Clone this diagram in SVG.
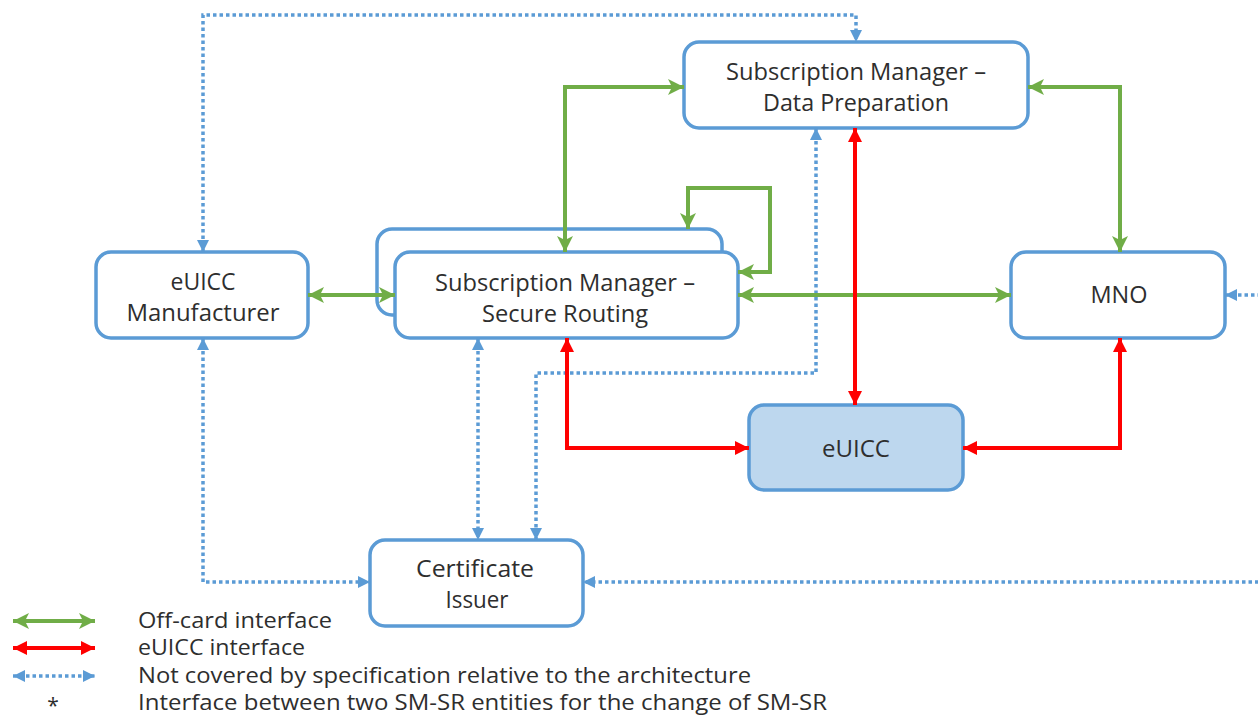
<svg xmlns="http://www.w3.org/2000/svg" width="1258" height="726" viewBox="0 0 1258 726">
<style>
.box{fill:#ffffff;stroke:#5b9bd5;stroke-width:3.5}
.chip{fill:#bdd7ee;stroke:#5b9bd5;stroke-width:3.5}
.t{font-family:"Open Sans","Liberation Sans",sans-serif;font-size:24px;fill:#2e2e2e;text-anchor:middle}
.lg{font-family:"Open Sans","Liberation Sans",sans-serif;font-size:21px;fill:#2e2e2e}
.g{fill:none;stroke:#70ad47;stroke-width:4;marker-start:url(#ag);marker-end:url(#ag)}
.r{fill:none;stroke:#ff0000;stroke-width:4;marker-start:url(#ar);marker-end:url(#ar)}
.b{fill:none;stroke:#5b9bd5;stroke-width:3.5;stroke-dasharray:3.5 3;marker-start:url(#ab);marker-end:url(#ab)}
</style>
<defs>
<marker id="ag" markerUnits="userSpaceOnUse" viewBox="0 0 16 16" refX="16" refY="8" markerWidth="16" markerHeight="16" orient="auto-start-reverse"><path d="M0,0 L16,8 L0,16 L4,8 z" fill="#70ad47"/></marker>
<marker id="ar" markerUnits="userSpaceOnUse" viewBox="0 0 14 14" refX="14" refY="7" markerWidth="14" markerHeight="14" orient="auto-start-reverse"><path d="M0,0 L14,7 L0,14 z" fill="#ff0000"/></marker>
<marker id="ab" markerUnits="userSpaceOnUse" viewBox="0 0 12 12" refX="12" refY="6" markerWidth="12" markerHeight="12" orient="auto-start-reverse"><path d="M0,0 L12,6 L0,12 z" fill="#5b9bd5"/></marker>
</defs>
<rect width="1258" height="726" fill="#ffffff"/>

<g id="sm-dp">
<rect class="box" x="684" y="42" width="344" height="86" rx="15"/>
<text class="t" x="856" y="80" textLength="260" lengthAdjust="spacingAndGlyphs">Subscription Manager –</text>
<text class="t" x="856" y="111" textLength="186" lengthAdjust="spacingAndGlyphs">Data Preparation</text>
</g>

<g id="euicc-manufacturer">
<rect class="box" x="96" y="252" width="212" height="86" rx="15"/>
<text class="t" x="203" y="290" textLength="65" lengthAdjust="spacingAndGlyphs">eUICC</text>
<text class="t" x="203" y="321" textLength="153" lengthAdjust="spacingAndGlyphs">Manufacturer</text>
</g>

<g id="sm-sr">
<rect class="box" x="377" y="229" width="345" height="86" rx="15"/>
<rect class="box" x="395" y="252" width="343" height="86" rx="15"/>
<text class="t" x="565" y="291" textLength="260" lengthAdjust="spacingAndGlyphs">Subscription Manager –</text>
<text class="t" x="565" y="322" textLength="166" lengthAdjust="spacingAndGlyphs">Secure Routing</text>
</g>

<g id="mno">
<rect class="box" x="1011" y="252" width="214" height="86" rx="15"/>
<text class="t" x="1119" y="303" textLength="57" lengthAdjust="spacingAndGlyphs">MNO</text>
</g>

<g id="euicc">
<rect class="chip" x="749" y="405" width="214" height="85" rx="15"/>
<text class="t" x="856" y="457" textLength="68" lengthAdjust="spacingAndGlyphs">eUICC</text>
</g>

<g id="certificate-issuer">
<rect class="box" x="370" y="540" width="213" height="86" rx="15"/>
<text class="t" x="475" y="577" textLength="118" lengthAdjust="spacingAndGlyphs">Certificate</text>
<text class="t" x="477" y="608" textLength="63" lengthAdjust="spacingAndGlyphs">Issuer</text>
</g>

<g id="connectors">
<path class="b" d="M203,252 V15 H856 V42"/>
<path class="b" d="M203,338 V582 H370"/>
<path class="b" d="M478,338 V540"/>
<path class="b" d="M816,128 V373 H536 V540"/>
<path class="b" d="M1225,295 H1290 V582 H583"/>
<path class="g" d="M308,295 H395"/>
<path class="g" d="M738,295 H1011"/>
<path class="g" d="M565,252 V87 H684"/>
<path class="g" d="M1028,87 H1120 V252"/>
<path class="g" d="M688,229 V188 H770 V272 H738"/>
<path class="r" d="M855,128 V405"/>
<path class="r" d="M567,338 V448 H749"/>
<path class="r" d="M1120,338 V448 H963"/>
</g>

<g id="legend">
<line class="g" x1="13" y1="621" x2="95" y2="621"/>
<line class="r" x1="13" y1="648" x2="95" y2="648"/>
<line class="b" x1="13" y1="676" x2="95" y2="676"/>
<text class="lg" x="53" y="713" text-anchor="middle">*</text>
<text class="lg" x="138" y="628" textLength="194" lengthAdjust="spacingAndGlyphs">Off-card interface</text>
<text class="lg" x="138" y="655" textLength="167" lengthAdjust="spacingAndGlyphs">eUICC interface</text>
<text class="lg" x="138" y="683" textLength="613" lengthAdjust="spacingAndGlyphs">Not covered by specification relative to the architecture</text>
<text class="lg" x="138" y="710" textLength="689" lengthAdjust="spacingAndGlyphs">Interface between two SM-SR entities for the change of SM-SR</text>
</g>
</svg>
